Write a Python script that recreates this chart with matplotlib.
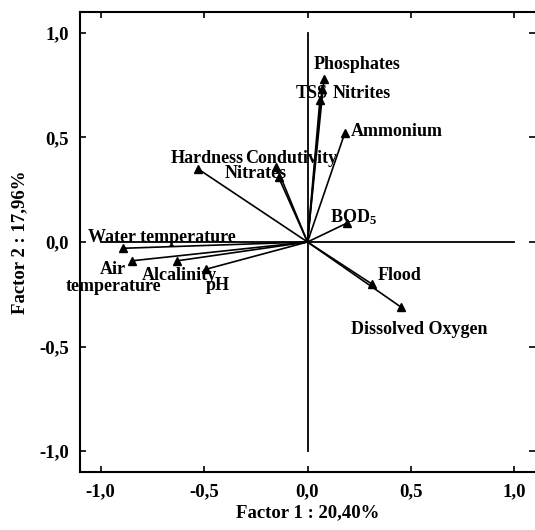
import matplotlib
matplotlib.use("Agg")
import matplotlib.pyplot as plt
from matplotlib.ticker import FuncFormatter

plt.rcParams['font.family'] = ['Liberation Serif', 'DejaVu Serif']
plt.rcParams['font.weight'] = 'bold'
plt.rcParams['mathtext.fontset'] = 'custom'
plt.rcParams['mathtext.rm'] = 'Liberation Serif:bold'
plt.rcParams['mathtext.default'] = 'rm'

# Cargas factoriales (Factor 1, Factor 2)
variables = ['Phosphates', 'Nitrites', 'TSS', 'Ammonium', 'Hardness', 'Condutivity',
             'Nitrates', 'BOD$_5$', 'Water temperature', 'Air\ntemperature',
             'Alcalinity', 'pH', 'Flood', 'Dissolved Oxygen']
factor1 = [0.08, 0.07, 0.06, 0.18, -0.53, -0.15, -0.14, 0.19, -0.89, -0.85, -0.63, -0.49, 0.31, 0.45]
factor2 = [0.78, 0.73, 0.68, 0.52, 0.35, 0.36, 0.31, 0.09, -0.03, -0.09, -0.09, -0.13, -0.20, -0.31]

# Posición de las etiquetas
label_x = [0.03, 0.12, 0.02, 0.21, -0.66, -0.30, -0.40, 0.11, -1.06, -0.94, -0.80, -0.49, 0.34, 0.21]
label_y = [0.85, 0.71, 0.71, 0.53, 0.40, 0.40, 0.33, 0.12, 0.02, -0.17, -0.16, -0.21, -0.16, -0.42]
label_ha = ['left', 'left', 'center', 'left', 'left', 'left', 'left', 'left', 'left',
            'center', 'left', 'left', 'left', 'left']

fig = plt.figure(figsize=(5.35, 5.30), dpi=100)
ax = fig.add_axes([80 / 535, 58 / 530, 455 / 535, 460 / 530])

# Ejes de referencia
ax.plot([-1, 1], [0, 0], color='black', lw=1.3)
ax.plot([0, 0], [-1, 1], color='black', lw=1.3)

for x, y in zip(factor1, factor2):
    ax.plot([0, x], [0, y], color='black', lw=1.2)
ax.plot(factor1, factor2, '^', color='black', ms=5.5, ls='none')

for name, lx, ly, ha in zip(variables, label_x, label_y, label_ha):
    ax.text(lx, ly, name, ha=ha, va='center', fontsize=13, fontweight='bold',
            linespacing=1.0)

ax.set_xlim(-1.1, 1.1)
ax.set_ylim(-1.1, 1.1)
ticks = [-1.0, -0.5, 0.0, 0.5, 1.0]
ax.set_xticks(ticks)
ax.set_yticks(ticks)
fmt = FuncFormatter(lambda v, p: f"{v:.1f}".replace('.', ','))
ax.xaxis.set_major_formatter(fmt)
ax.yaxis.set_major_formatter(fmt)
ax.tick_params(direction='in', length=4, width=1.2, labelsize=13.5,
               top=True, right=True, pad=8)
for lab in ax.get_xticklabels() + ax.get_yticklabels():
    lab.set_fontweight('bold')
for s in ['left', 'bottom', 'top']:
    ax.spines[s].set_linewidth(1.5)
ax.spines['right'].set_visible(False)

ax.set_xlabel('Factor 1 : 20,40%', fontsize=13.5, fontweight='bold', labelpad=3)
ax.set_ylabel('Factor 2 : 17,96%', fontsize=13.5, fontweight='bold', labelpad=8)

fig.savefig('out.png', dpi=100)
